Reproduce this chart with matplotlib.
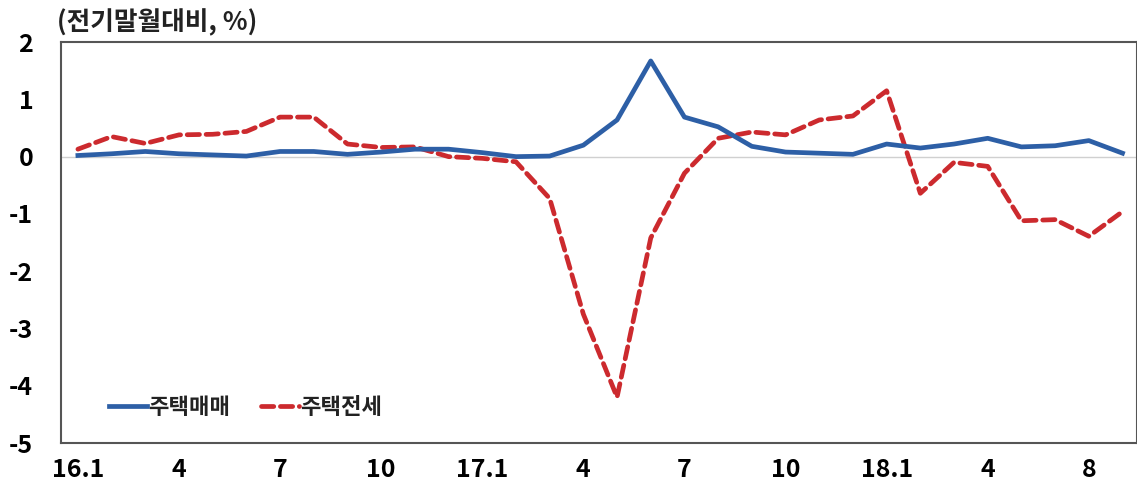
import matplotlib
matplotlib.use('Agg')
import matplotlib.pyplot as plt
import numpy as np

plt.rcParams['font.family'] = ['Noto Sans CJK KR', 'DejaVu Sans']

# 2016.1 ~ 2018.8 월별
months = list(range(32))
sale = [0.02, 0.05, 0.09, 0.05, 0.03, 0.01, 0.09, 0.09, 0.04, 0.08, 0.13, 0.13,
        0.07, 0.00, 0.01, 0.20, 0.64, 1.67, 0.69, 0.52, 0.18, 0.08, 0.06, 0.04,
        0.22, 0.15, 0.22, 0.32, 0.17, 0.19, 0.28, 0.06]
jeonse = [0.13, 0.35, 0.23, 0.38, 0.39, 0.44, 0.69, 0.69, 0.22, 0.16, 0.17, 0.00,
          -0.03, -0.09, -0.73, -2.75, -4.20, -1.42, -0.29, 0.32, 0.43, 0.38, 0.64, 0.71,
          1.15, -0.64, -0.10, -0.17, -1.12, -1.10, -1.39, -0.96]
tick_pos = [0, 3, 6, 9, 12, 15, 18, 21, 24, 27, 30]
tick_lbl = ['16.1', '4', '7', '10', '17.1', '4', '7', '10', '18.1', '4', '8']

fig = plt.figure(figsize=(11.37, 4.95), dpi=100)
ax = fig.add_axes([0.0537, 0.105, 0.946, 0.81])

ax.axhline(0, color='#d0d0d0', lw=1, zorder=1)
ax.plot(months, sale, color='#2d5fa6', lw=3.4, label='주택매매', zorder=3,
        solid_joinstyle='round')
ax.plot(months, jeonse, color='#cc2a2e', lw=3.4, label='주택전세', zorder=2,
        linestyle=(0, (2.6, 1.4)), dash_capstyle='round')

ax.set_xlim(-0.5, 31.42)
ax.set_ylim(-5, 2)
ax.set_yticks(range(-5, 3))
ax.set_yticklabels([str(v) for v in range(-5, 3)])
ax.set_xticks(tick_pos)
ax.set_xticklabels(tick_lbl)
ax.tick_params(axis='both', length=0, labelsize=18, colors='black')
ax.tick_params(axis='y', pad=20)
ax.tick_params(axis='x', pad=11)
for t in ax.get_xticklabels() + ax.get_yticklabels():
    t.set_fontweight('bold')

for s in ax.spines.values():
    s.set_color('#555555')
    s.set_linewidth(1.5)

fig.text(0.05, 0.955, '(전기말월대비, %)', fontsize=18.5, fontweight='bold',
         ha='left', va='center', color='#222222')

leg = ax.legend(loc='lower left', bbox_to_anchor=(0.026, 0.01), ncol=2, frameon=False,
                handlelength=1.7, handletextpad=0.05, columnspacing=1.4,
                prop={'size': 16, 'weight': 'bold'})
for t in leg.get_texts():
    t.set_color('#222222')

fig.savefig('out.png', dpi=100)
